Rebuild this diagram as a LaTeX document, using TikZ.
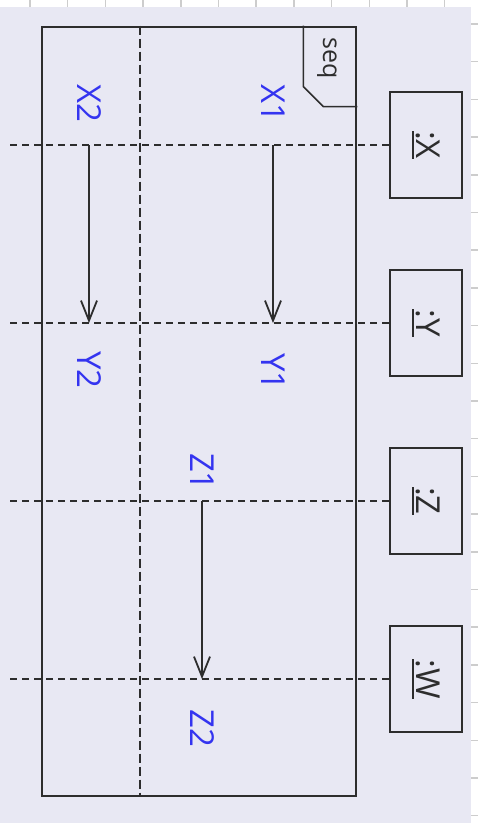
\documentclass[tikz,border=0pt]{standalone}
\usepackage{fontspec}
\setmainfont{Open Sans}
\usepackage{xcolor}
\usetikzlibrary{arrows.meta,positioning}
\definecolor{bgcol}{RGB}{232,232,243}
\definecolor{ink}{RGB}{45,45,45}
\definecolor{lblue}{RGB}{52,52,240}
\definecolor{tickcol}{RGB}{205,205,205}
\newcommand{\ulname}[1]{\setbox0\hbox{#1}\rlap{\raisebox{-5pt}{\rule{\wd0}{2.2pt}}}\box0}

\begin{document}
\begin{tikzpicture}[x=1pt,y=-1pt,>=Stealth]
\tikzstyle{part}=[draw=ink,line width=2.8pt,fill=bgcol,rotate=-90,minimum width=106pt,minimum height=72pt,text=ink,font=\fontsize{33}{36}\selectfont]
\tikzstyle{lbl}=[rotate=-90,text=lblue,font=\fontsize{33}{36}\selectfont,inner sep=0pt]
\tikzstyle{life}=[ink,line width=2.2pt,dash pattern=on 7pt off 5pt]
\tikzstyle{msg}=[ink,line width=1.8pt,-{Straight Barb[length=20pt,width=16pt]}]
\useasboundingbox (0,0) rectangle (478,823);
\fill[white] (0,0) rectangle (478,823);
\fill[bgcol] (0,7) rectangle (471,823);
% rulers
\foreach \i in {0,...,11} \draw[tickcol,line width=1.5pt] (30+37.7*\i,0) -- ++(0,7);
\foreach \i in {0,...,21} \draw[tickcol,line width=1.5pt] (471,24+37.7*\i) -- ++(7,0);

% fragment
\node[draw=ink,line width=2.8pt,minimum width=314pt,minimum height=769pt,inner sep=0pt] (seq) at (199,411.5) {};
\draw[ink,line width=1.6pt] (seq.north east) ++(-54,0) -- ++(0,61) -- ++(20,20) -- ++(34,0);
\node[rotate=-90,text=ink,font=\fontsize{25}{28}\selectfont] (seqlbl) at (327,58) {seq};
\coordinate (sep) at (140,0);
\draw[ink,line width=2.2pt,dash pattern=on 9pt off 4pt] (sep |- seq.north) -- (sep |- seq.south);

% participants
\node[part] (X) at (426,145) {\ulname{:X}};
\node[part] (Y) at (426,323) {\ulname{:Y}};
\node[part] (Z) at (426,501) {\ulname{:Z}};
\node[part] (W) at (426,679) {\ulname{:W}};
\coordinate (lend) at (8,0);
\draw[life] (X) -- (X -| lend);
\draw[life] (Y) -- (Y -| lend);
\draw[life] (Z) -- (Z -| lend);
\draw[life] (W) -- (W -| lend);

% messages
\node[lbl] (X1) at (273,103) {X1};
\node[lbl] (Y1) at (273,372) {Y1};
\node[lbl] (X2) at (89,103) {X2};
\node[lbl] (Y2) at (89,370) {Y2};
\node[lbl] (Z1) at (202,472) {Z1};
\node[lbl] (Z2) at (202,728) {Z2};
\draw[msg] (X1 |- X) -- (X1 |- Y);
\draw[msg] (X2 |- X) -- (X2 |- Y);
\draw[msg] (Z1 |- Z) -- (Z1 |- W);
\end{tikzpicture}
\end{document}
